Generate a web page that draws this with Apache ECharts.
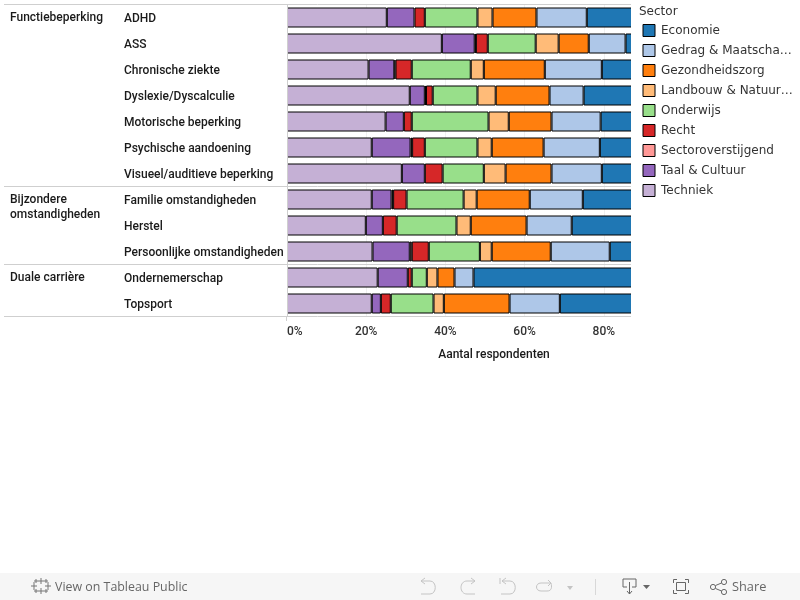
<!DOCTYPE html>
<html><head><meta charset="utf-8">
<style>html,body{margin:0;padding:0;background:#fff}#c{width:800px;height:600px}</style>
<script src="https://cdn.jsdelivr.net/npm/echarts@6/dist/echarts.min.js"></script>
</head><body><div id="c"></div>
<script>
const categories = ['ADHD','ASS','Chronische ziekte','Dyslexie/Dyscalculie','Motorische beperking','Psychische aandoening','Visueel/auditieve beperking','Familie omstandigheden','Herstel','Persoonlijke omstandigheden','Ondernemerschap','Topsport'];
const groupNames = ['Functiebeperking','Bijzondere\nomstandigheden','Duale carrière'];
const groupSizes = [7,3,2];
const techniek  = [25.2,39.1,20.6,31.0,24.9,21.4,29.0,21.4,19.9,21.6,22.9,21.4];
const taal      = [7.0,8.3,6.5,3.8,4.6,9.8,5.8,5.0,4.3,9.4,7.6,2.3];
const sectorov  = [null,0.3,0.3,0.3,null,0.4,null,0.4,null,0.5,null,null];
const recht     = [2.6,3.0,4.1,1.7,2.0,3.2,4.5,3.4,3.5,4.3,1.0,2.5];
const onderwijs = [13.3,12.1,14.9,11.3,19.4,13.3,10.4,14.4,15.1,12.9,3.8,10.8];
const landbouw  = [3.8,5.8,3.3,4.6,5.1,3.6,5.5,3.3,3.6,3.0,2.7,2.6];
const gezond    = [11.1,7.6,15.4,13.6,10.8,13.1,11.6,13.4,14.1,14.9,4.3,16.6];
const gedrag    = [12.7,9.3,14.4,8.6,12.4,14.2,12.7,13.4,11.4,14.9,4.8,12.7];
const economie  = [24.3,14.5,20.5,25.1,20.8,21.0,20.5,25.3,28.1,18.5,52.9,31.1];
const sectorNames = ['Techniek','Taal & Cultuur','Sectoroverstijgend','Recht','Onderwijs','Landbouw & Natuur…','Gezondheidszorg','Gedrag & Maatscha…','Economie'];
const sectorValues = [techniek,taal,sectorov,recht,onderwijs,landbouw,gezond,gedrag,economie];
const sectorColors = ['#c5b0d5','#9467bd','#ff9896','#d62728','#98df8a','#ffbb78','#ff7f0e','#aec7e8','#1f77b4'];
const xTicks = [0,20,40,60,80];

const top0 = 4.5, rowH = 26, left0 = 4, plotL = 287, plotR = 631, bleed = 6;
const visibleMax = 86.87;
const line = '#cfcfcf';
const g = [];
// the view cuts the bars at its right edge, without an end border
g.push({type:'rect',shape:{x:plotR,y:0,width:bleed+2,height:322},style:{fill:'#fff'},z:4});
const sepYs = [top0]; let acc = 0, groupTops = [];
groupSizes.forEach(n => { groupTops.push(top0 + acc*rowH); acc += n; sepYs.push(top0 + acc*rowH); });
sepYs.forEach(y => g.push({type:'line',shape:{x1:left0,y1:y,x2:plotR,y2:y},style:{stroke:line,lineWidth:1},z:5}));
groupNames.forEach((n,i) => g.push({type:'text',x:10,y:groupTops[i]+6,style:{text:n,font:'500 12px Roboto',lineHeight:15,fill:'#1a1a1a',textVerticalAlign:'top'},z:5}));
// Tableau toolbar
g.push({type:'rect',shape:{x:0,y:573,width:800,height:27},style:{fill:'#f6f6f6'},z:1});
g.push({type:'text',x:55,y:587,style:{text:'View on Tableau Public',font:'12.4px "Open Sans"',fill:'#666',textVerticalAlign:'middle'},z:5});
g.push({type:'text',x:732,y:587,style:{text:'Share',font:'12.8px "Open Sans"',fill:'#666',textVerticalAlign:'middle'},z:5});
let icN = 0;
const ic = (d,stroke,w) => {
  const nm = 'tbIcon' + (icN++);
  echarts.graphic.registerShape(nm, echarts.graphic.extendPath(d, {}));
  g.push({type:nm,style:{fill:'none',stroke:stroke,lineWidth:w||1},z:5});
};
ic('M41 578V584M38 581H44M41 588V594M38 591H44M34 582V590M31 586H37M48 582V590M45 586H51M36 579V583M34 581H38M46 579V583M44 581H48M36 589V593M34 591H38M46 589V593M44 591H48','#777',1);
const gl='#c4c4c4';
ic('M421 581H430C437 581 437 594 430 594H421M421 581L425 578M421 581L425 584',gl);
ic('M475 581H467C459 581 459 594 467 594H475M475 581L471 578M475 581L471 584',gl);
ic('M500 578V584M502 581H510C517 581 517 594 510 594H501M502 581L506 578M502 581L506 584',gl);
ic('M551 583H541C535 583 535 591 541 591H547C552 591 552 587 551 583M551 583L548 580M551 583L548 586',gl);
g.push({type:'polygon',shape:{points:[[567,586],[573,586],[570,590]]},style:{fill:gl},z:5});
ic('M595.500 579V595','#d8d8d8');
ic('M627 587H623V579H636V587H632M629.500 582V594M627 591L629.500 594L632 591','#666');
g.push({type:'polygon',shape:{points:[[643,585],[650,585],[646.500,589]]},style:{fill:'#666'},z:5});
ic('M677 579.500H673.500V583M685 579.500H688.500V583M673.500 590V593.500H677M688.500 590V593.500H685M676.500 582.500H685.500V590.500H676.500Z','#666');
ic('M715.500 585.500L721.500 583M715.500 588.500L721.500 591','#666');
[[713,587],[724,582],[724,592]].forEach(p=>g.push({type:'circle',shape:{cx:p[0],cy:p[1],r:2.6},style:{fill:'none',stroke:'#666',lineWidth:1},z:5}));
g.push({type:'line',shape:{x1:plotL-.5,y1:316,x2:plotL-.5,y2:321},style:{stroke:line},z:5});
g.push({type:'text',x:639,y:11.5,style:{text:'Sector',font:'12px "DejaVu Sans"',fill:'#333',textVerticalAlign:'middle'},z:5});

const option = {
  animation:false,
  graphic:g,
  grid:{left:plotL,top:top0,width:plotR-plotL+bleed,height:rowH*categories.length,containLabel:false},
  xAxis:{type:'value',min:0,max:visibleMax*(plotR-plotL+bleed)/(plotR-plotL),interval:20,
    axisLine:{show:false},axisTick:{show:false},
    splitLine:{show:true,showMaxLine:false,showMinLine:false,lineStyle:{color:'#f0f0f0',width:1}},
    axisLabel:{margin:9.5,showMaxLabel:false,alignMinLabel:'left',fontFamily:'Roboto',fontSize:12,fontWeight:500,color:'#333',
      formatter:v=>xTicks.includes(v)?v+'%':''},
    name:'Aantal respondenten',nameLocation:'middle',nameGap:32,
    nameTextStyle:{fontFamily:'Roboto',fontSize:12,fontWeight:500,color:'#1a1a1a',padding:[0,0,0,64]}},
  yAxis:{type:'category',inverse:true,data:categories,z:3,
    axisLine:{show:true,lineStyle:{color:line}},axisTick:{show:false},splitLine:{show:false},
    axisLabel:{align:'left',margin:163,formatter:v=>'{a|'+v+'}',
      rich:{a:{padding:[2,0,0,0],fontFamily:'Roboto',fontSize:12,fontWeight:500,color:'#1a1a1a'}}}},
  legend:{type:'plain',orient:'vertical',left:642.5,top:24,itemWidth:12,itemHeight:12,itemGap:7,
    data:sectorNames.slice().reverse(),icon:'rect',selectedMode:false,
    padding:0,formatter:'{name}',
    itemStyle:{borderColor:'#000',borderWidth:1},
    textStyle:{fontFamily:'DejaVu Sans',fontSize:12,color:'#333',padding:[0,0,0,1],lineHeight:13}},
  series:sectorNames.map((n,i)=>({name:n,type:'bar',stack:'a',barWidth:20,clip:true,data:sectorValues[i],
    itemStyle:{color:sectorColors[i],borderColor:'#000',borderWidth:1},emphasis:{disabled:true}}))
};
const chart = echarts.init(document.getElementById('c'),null,{renderer:'canvas'});
chart.setOption(option);
</script></body></html>
